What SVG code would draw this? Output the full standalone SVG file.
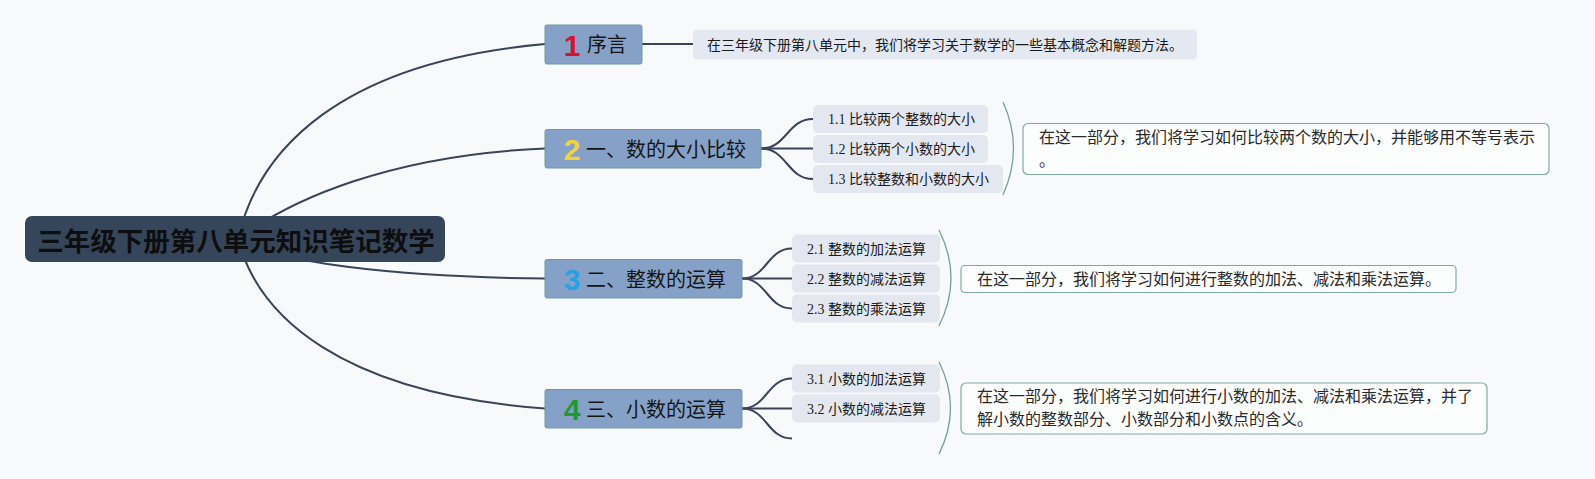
<svg xmlns="http://www.w3.org/2000/svg" width="1595" height="479" viewBox="0 0 1595 479">
<style>
.bg{fill:#f8f9fa}
.conn{fill:none;stroke:#37445a;stroke-width:2}
.brk{fill:none;stroke:#6fa393;stroke-width:1.3}
.root{fill:#36465a}
.roottxt{font-family:"Noto Sans CJK SC","Liberation Sans",sans-serif;font-weight:bold;font-size:26.5px;fill:#0e0e10}
.main{fill:#86a1c7;stroke:#6a9c9c;stroke-width:1}
.mtxt{font-family:"Noto Sans CJK SC","Liberation Sans",sans-serif;font-size:20px;fill:#151515}
.num{font-family:"Liberation Sans","DejaVu Sans",sans-serif;font-weight:bold;font-size:30px;text-anchor:middle}
.sub{fill:#e3e8f0}
.stxt{font-family:"Liberation Serif","Noto Sans CJK SC",serif;font-size:14px;fill:#1a1a1a}
.note1{fill:#e4e9f1}
.note{fill:#fcfdfd;stroke:#80ab9f;stroke-width:1.2}
.ntxt{font-family:"Noto Sans CJK SC","Liberation Sans",sans-serif;font-size:16px;fill:#2a2a2a}
.n1txt{font-family:"Noto Sans CJK SC","Liberation Sans",sans-serif;font-size:14px;fill:#1a1a1a}
</style>
<rect class="bg" x="0" y="0" width="1595" height="479"/>
<g id="connectors">
<path class="conn" d="M238 239 C258 150 340 62 545 44"/>
<path class="conn" d="M238 239 C290 200 390 155 545 148.5"/>
<path class="conn" d="M238 239 C275 262 390 277 545 278.5"/>
<path class="conn" d="M238 239 C258 316 340 393 545 408.5"/>
<path class="conn" d="M642 44 L693 44"/>
<path class="conn" d="M761 148.5 C787 148.5 787 119 813 119"/>
<path class="conn" d="M761 148.5 L813 148.5"/>
<path class="conn" d="M761 148.5 C787 148.5 787 179 813 179"/>
<path class="conn" d="M742 278.5 C767 278.5 767 248.5 792 248.5"/>
<path class="conn" d="M742 278.5 L792 278.5"/>
<path class="conn" d="M742 278.5 C767 278.5 767 308.5 792 308.5"/>
<path class="conn" d="M742 408.5 C767 408.5 767 378.5 792 378.5"/>
<path class="conn" d="M742 408.5 L792 408.5"/>
<path class="conn" d="M742 408.5 C767 408.5 767 438.5 792 438.5"/>
<path class="brk" d="M1003 102 Q1024 148 1003 195"/>
<path class="brk" d="M939 230 Q963 278 939 326"/>
<path class="brk" d="M939 362 Q962 408 939 454"/>
</g>
<g id="root">
<rect class="root" x="25" y="216" width="420" height="46" rx="7"/>
<text class="roottxt" x="236" y="250.5" text-anchor="middle">三年级下册第八单元知识笔记数学</text>
</g>
<g id="node1">
<rect class="main" x="545" y="25" width="97" height="39" rx="2"/>
<text class="num" x="572" y="55.5" fill="#d9102e">1</text>
<text class="mtxt" x="587" y="52">序言</text>
</g>
<g id="note1">
<rect class="note1" x="693" y="29.5" width="504" height="30" rx="4"/>
<text class="n1txt" x="707" y="50">在三年级下册第八单元中，我们将学习关于数学的一些基本概念和解题方法。</text>
</g>
<g id="node2">
<rect class="main" x="545" y="129.5" width="216" height="38.5" rx="2"/>
<text class="num" x="572" y="160" fill="#f1d43c">2</text>
<text class="mtxt" x="586" y="156.5">一、数的大小比较</text>
</g>
<g id="sub11"><rect class="sub" x="813" y="105" width="175" height="28" rx="5"/><text class="stxt" x="828" y="124">1.1 比较两个整数的大小</text></g>
<g id="sub12"><rect class="sub" x="813" y="135" width="175" height="28" rx="5"/><text class="stxt" x="828" y="154">1.2 比较两个小数的大小</text></g>
<g id="sub13"><rect class="sub" x="813" y="165" width="190" height="28" rx="5"/><text class="stxt" x="828" y="184">1.3 比较整数和小数的大小</text></g>
<g id="note2">
<rect class="note" x="1023" y="123.5" width="526" height="51" rx="5"/>
<text class="ntxt" x="1039" y="142.5">在这一部分，我们将学习如何比较两个数的大小，并能够用不等号表示</text>
<text class="ntxt" x="1039" y="165.5">。</text>
</g>
<g id="node3">
<rect class="main" x="545" y="259.5" width="197" height="38.5" rx="2"/>
<text class="num" x="572" y="290" fill="#27a1e2">3</text>
<text class="mtxt" x="586" y="286.5">二、整数的运算</text>
</g>
<g id="sub21"><rect class="sub" x="792" y="234.5" width="148" height="28" rx="5"/><text class="stxt" x="807" y="253.5">2.1 整数的加法运算</text></g>
<g id="sub22"><rect class="sub" x="792" y="264.5" width="148" height="28" rx="5"/><text class="stxt" x="807" y="283.5">2.2 整数的减法运算</text></g>
<g id="sub23"><rect class="sub" x="792" y="294.5" width="148" height="28" rx="5"/><text class="stxt" x="807" y="313.5">2.3 整数的乘法运算</text></g>
<g id="note3">
<rect class="note" x="961" y="265.5" width="495" height="27" rx="4"/>
<text class="ntxt" x="977" y="284.5">在这一部分，我们将学习如何进行整数的加法、减法和乘法运算。</text>
</g>
<g id="node4">
<rect class="main" x="545" y="389.5" width="197" height="38.5" rx="2"/>
<text class="num" x="572" y="420" fill="#1f9a2c">4</text>
<text class="mtxt" x="586" y="416.5">三、小数的运算</text>
</g>
<g id="sub31"><rect class="sub" x="792" y="364.5" width="148" height="28" rx="5"/><text class="stxt" x="807" y="383.5">3.1 小数的加法运算</text></g>
<g id="sub32"><rect class="sub" x="792" y="394.5" width="148" height="28" rx="5"/><text class="stxt" x="807" y="413.5">3.2 小数的减法运算</text></g>
<g id="note4">
<rect class="note" x="961" y="383" width="526" height="51" rx="5"/>
<text class="ntxt" x="977" y="402">在这一部分，我们将学习如何进行小数的加法、减法和乘法运算，并了</text>
<text class="ntxt" x="977" y="425">解小数的整数部分、小数部分和小数点的含义。</text>
</g>
</svg>
